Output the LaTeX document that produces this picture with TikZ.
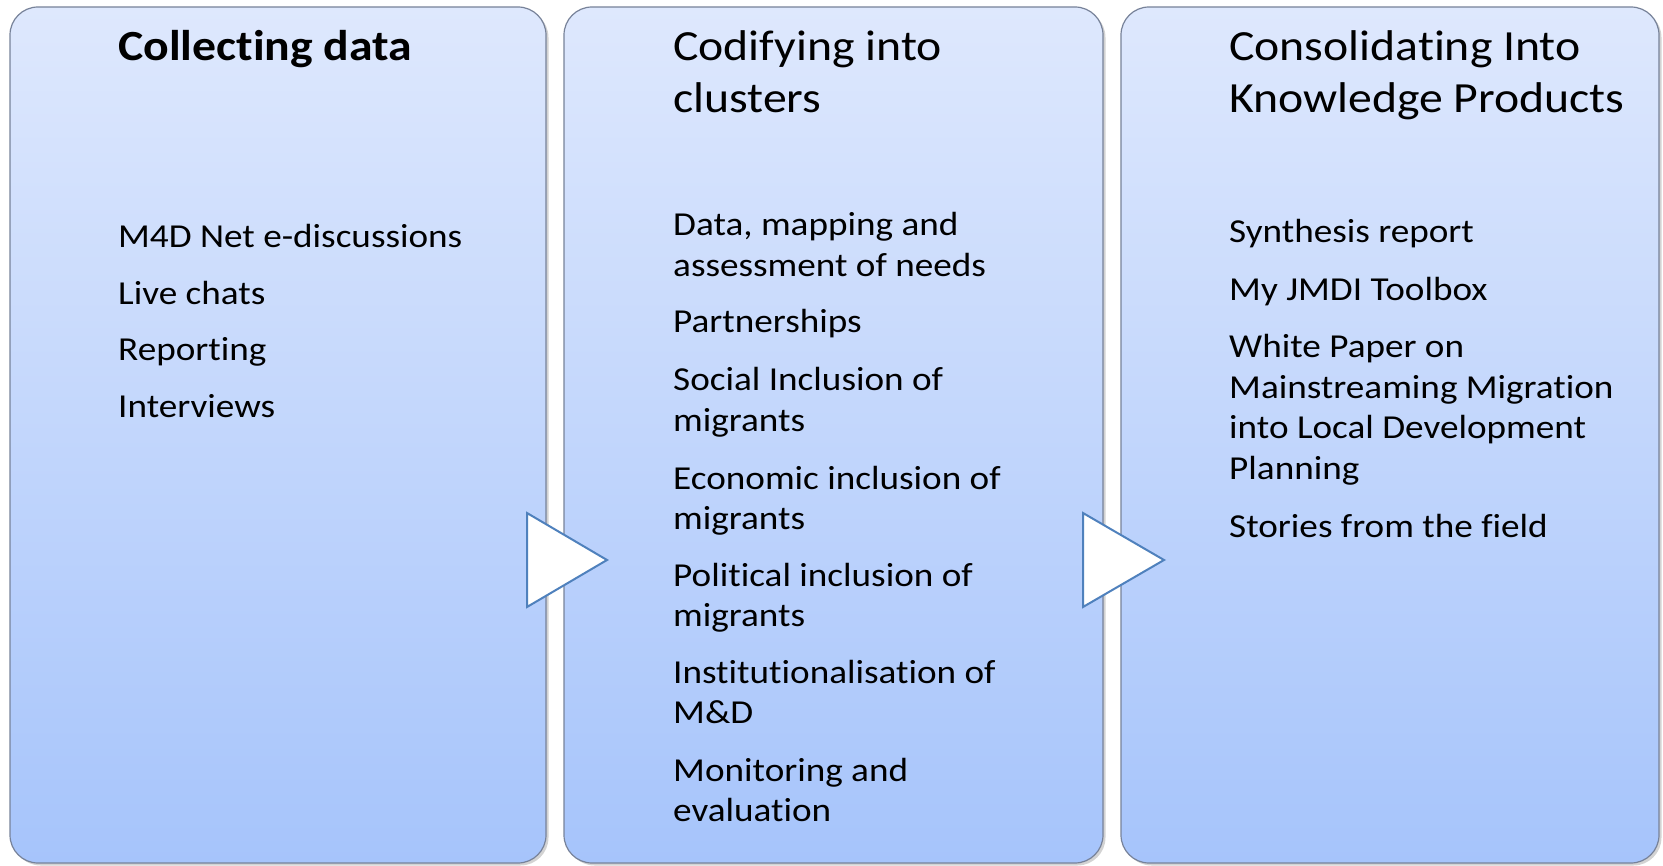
\documentclass[tikz,border=0pt]{standalone}
\usepackage{fontspec}
\setmainfont{Carlito}[FakeStretch=1.11, Ligatures=NoCommon]
\usetikzlibrary{shadows}
\definecolor{boxtop}{HTML}{DEE8FD}
\definecolor{boxbot}{HTML}{A6C4FB}
\definecolor{boxline}{HTML}{778299}
\definecolor{arrline}{HTML}{4F81BD}
\newcommand\para[1]{\parbox[t]{470pt}{\raggedright #1}}
\tikzset{
  box/.style={rectangle, rounded corners=28pt, draw=boxline, line width=1.2pt,
    top color=boxtop, bottom color=boxbot, minimum height=856pt, inner sep=0pt,
    drop shadow={shadow xshift=2.5pt, shadow yshift=-2.5pt, opacity=0.35}},
  ttl/.style={anchor=base west, inner sep=0pt, font=\fontsize{43}{52}\selectfont},
  itm/.style={anchor=base west, inner sep=0pt, font=\fontsize{33.5}{40.5}\selectfont},
  chev/.style={fill=white, draw=arrline, line width=2pt, line join=miter}
}
\begin{document}
\begin{tikzpicture}[x=1pt,y=-1pt]
\useasboundingbox (0,0) rectangle (1663,866);
% boxes
\node[box, minimum width=536pt] (b1) at (278,435) {};
\node[box, minimum width=539pt] (b2) at (833.5,435) {};
\node[box, minimum width=538pt] (b3) at (1390,435) {};
% arrows
\draw[chev] (527,513) -- (607,560) -- (527,607) -- cycle;
\draw[chev] (1083,513) -- (1164,560) -- (1083,607) -- cycle;
% column 1
\node[ttl, font=\fontsize{43}{52}\selectfont\bfseries] (t1) at (118,61) {\para{Collecting data}};
\node[itm] (c1a) at (118,248) {\para{M4D Net e-discussions}};
\node[itm] (c1b) at (118,305) {\para{Live chats}};
\node[itm] (c1c) at (118,361) {\para{Reporting}};
\node[itm] (c1d) at (118,418) {\para{Interviews}};
% column 2
\node[ttl] (t2) at (673,61) {\para{Codifying into\\clusters}};
\node[itm] (c2a) at (673,236) {\para{Data, mapping and\\assessment of needs}};
\node[itm] (c2b) at (673,333) {\para{Partnerships}};
\node[itm] (c2c) at (673,391) {\para{Social Inclusion of\\migrants}};
\node[itm] (c2d) at (673,489) {\para{Economic inclusion of\\migrants}};
\node[itm] (c2e) at (673,586) {\para{Political inclusion of\\migrants}};
\node[itm] (c2f) at (673,683) {\para{Institutionalisation of\\M\&D}};
\node[itm] (c2g) at (673,781) {\para{Monitoring and\\evaluation}};
% column 3
\node[ttl] (t3) at (1229,61) {\para{Consolidating Into\\Knowledge Products}};
\node[itm] (c3a) at (1229,243) {\para{Synthesis report}};
\node[itm] (c3b) at (1229,301) {\para{My JMDI Toolbox}};
\node[itm] (c3c) at (1229,358) {\para{White Paper on\\Mainstreaming Migration\\into Local Development\\Planning}};
\node[itm] (c3d) at (1229,537) {\para{Stories from the field}};
\end{tikzpicture}
\end{document}
